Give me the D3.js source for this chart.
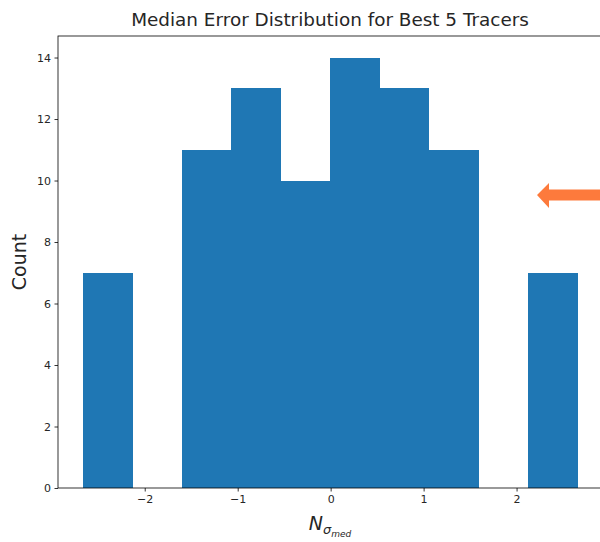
<!DOCTYPE html>
<html>
<head>
<meta charset="utf-8">
<script src="https://cdn.jsdelivr.net/npm/d3@7"></script>
<style>
  html, body { margin: 0; padding: 0; background: #fff; }
  svg { display: block; }
  text { font-family: "DejaVu Sans", sans-serif; fill: #262626; }
</style>
</head>
<body>
<svg id="chart" width="600" height="542"></svg>
<script>
// Histogram of median error (in units of sigma_med) for the best 5 tracers
const binEdges = [-2.667, -2.135, -1.603, -1.071, -0.539, -0.007, 0.525, 1.057, 1.589, 2.121, 2.653];
const counts   = [7, 0, 11, 13, 10, 14, 13, 11, 0, 7];
const xTicks   = [-2, -1, 0, 1, 2];
const yTicks   = [0, 2, 4, 6, 8, 10, 12, 14];

const svg = d3.select("#chart");
const plot = { left: 58, top: 36, right: 602, bottom: 488 };

const span = binEdges[binEdges.length - 1] - binEdges[0];
const x = d3.scaleLinear()
  .domain([binEdges[0] - 0.05 * span, binEdges[binEdges.length - 1] + 0.05 * span])
  .range([plot.left, plot.right]);
const y = d3.scaleLinear()
  .domain([0, d3.max(counts) * 1.05])
  .range([plot.bottom, plot.top]);

const bins = counts.map((c, i) => ({ x0: binEdges[i], x1: binEdges[i + 1], n: c }));

svg.append("g")
  .attr("shape-rendering", "crispEdges")
  .selectAll("rect")
  .data(bins.filter(b => b.n > 0))
  .join("rect")
  .attr("x", d => x(d.x0))
  .attr("y", d => y(d.n))
  .attr("width", d => x(d.x1) - x(d.x0) + 0.5)
  .attr("height", d => y(0) - y(d.n))
  .attr("fill", "#1f77b4");

// Axes
const xAxis = svg.append("g")
  .attr("transform", `translate(0,${plot.bottom})`)
  .call(d3.axisBottom(x).tickValues(xTicks).tickSize(3.5).tickPadding(3.5)
    .tickFormat(d => d < 0 ? "\u2212" + Math.abs(d) : d));
const yAxis = svg.append("g")
  .attr("transform", `translate(${plot.left},0)`)
  .call(d3.axisLeft(y).tickValues(yTicks).tickSize(3.5).tickPadding(3.5));

[xAxis, yAxis].forEach(g => {
  g.select(".domain").remove();
  g.selectAll(".tick line").attr("stroke", "#000").attr("stroke-width", 0.8);
  g.selectAll(".tick text").attr("font-size", 11).attr("fill", "#262626")
    .attr("font-family", "DejaVu Sans, sans-serif");
});

// Frame
svg.append("rect")
  .attr("x", plot.left).attr("y", plot.top)
  .attr("width", plot.right - plot.left).attr("height", plot.bottom - plot.top)
  .attr("fill", "none").attr("stroke", "#000").attr("stroke-width", 0.8);

// Title
svg.append("text")
  .attr("x", 330).attr("y", 26)
  .attr("text-anchor", "middle")
  .attr("font-size", 18.4)
  .text("Median Error Distribution for Best 5 Tracers");

// Y label
svg.append("text")
  .attr("transform", `translate(26,${(plot.top + plot.bottom) / 2}) rotate(-90)`)
  .attr("text-anchor", "middle")
  .attr("font-size", 19)
  .text("Count");

// X label: N subscript sigma subscript med
const xl = svg.append("text")
  .attr("x", 330).attr("y", 530)
  .attr("text-anchor", "middle")
  .attr("font-style", "italic");
xl.append("tspan").attr("font-size", 19).text("N");
xl.append("tspan").attr("font-size", 13).attr("dy", 4).text("\u03c3");
xl.append("tspan").attr("font-size", 9).attr("dy", 3).text("med");

// Pointer arrow at the right edge
const arrow = [[537, 195], [549, 183], [549, 189.5], [600, 189.5], [600, 200.5], [549, 200.5], [549, 208]];
svg.append("path")
  .attr("d", d3.line()(arrow) + "Z")
  .attr("fill", "#fd7a3c");
</script>
</body>
</html>
